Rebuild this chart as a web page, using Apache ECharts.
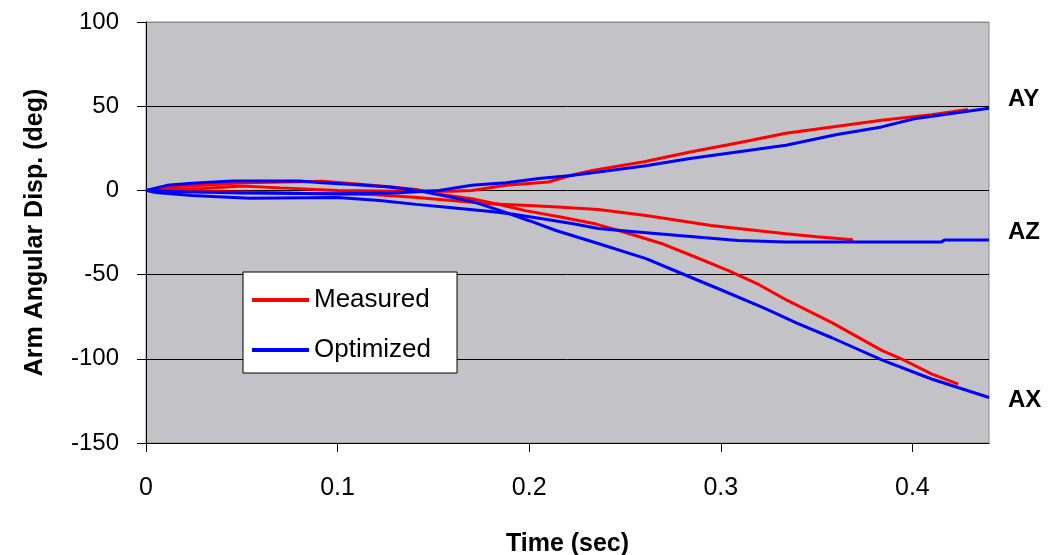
<!DOCTYPE html>
<html>
<head>
<meta charset="utf-8">
<script src="https://cdn.jsdelivr.net/npm/echarts@6/dist/echarts.min.js"></script>
<style>
html,body{margin:0;padding:0;background:#fff;}
#graph{width:1057px;height:555px;}
</style>
</head>
<body>
<div id="graph"></div>
<script>
// [time (sec), angle (deg)]
var measuredAX = [[0,0],[0.012,2],[0.03,3],[0.05,4.5],[0.08,5.2],[0.092,5.4],[0.11,3.8],[0.127,2.2],[0.141,0.5],[0.155,-2.5],[0.17,-5],[0.185,-8.5],[0.198,-12],[0.217,-16],[0.235,-20],[0.252,-25.6],[0.269,-31.5],[0.287,-39.7],[0.304,-47.6],[0.32,-56],[0.335,-65.5],[0.358,-78.5],[0.384,-95],[0.396,-101],[0.41,-109],[0.424,-115]];
var measuredAY = [[0,0],[0.03,1.2],[0.05,2.6],[0.07,1.5],[0.1,0],[0.13,-0.5],[0.16,-0.5],[0.17,0],[0.188,3],[0.21,5],[0.222,9],[0.233,11.9],[0.26,17],[0.284,22.8],[0.31,28.5],[0.334,33.9],[0.36,38],[0.384,41.7],[0.41,45],[0.429,48]];
var measuredAZ = [[0,0],[0.02,-0.5],[0.05,-1],[0.09,-2],[0.118,-2.5],[0.14,-4],[0.155,-5.5],[0.179,-8],[0.2,-9],[0.217,-10],[0.236,-11.3],[0.261,-14.9],[0.295,-20.8],[0.309,-22.6],[0.334,-25.8],[0.35,-27.5],[0.369,-29.3]];
var optimizedAX = [[0,0],[0.011,3],[0.024,4.3],[0.045,5.6],[0.08,5.6],[0.092,4.6],[0.11,3.4],[0.127,2],[0.141,0],[0.155,-3],[0.17,-6.5],[0.185,-12],[0.2,-18],[0.214,-23.8],[0.236,-31.5],[0.261,-40.5],[0.278,-48.6],[0.3,-59],[0.323,-70],[0.34,-79],[0.358,-87.5],[0.384,-100.6],[0.41,-112],[0.44,-123]];
var optimizedAY = [[0,0],[0.02,-0.8],[0.05,-1.5],[0.1,-2],[0.13,-1.5],[0.153,0],[0.17,3],[0.188,4.6],[0.205,7],[0.222,8.9],[0.236,10.9],[0.26,14.5],[0.284,19],[0.334,26.8],[0.36,33],[0.384,37.7],[0.401,42.5],[0.44,48.8]];
var optimizedAZ = [[0,0],[0.005,-1.2],[0.024,-3],[0.054,-4.6],[0.1,-4.2],[0.122,-6],[0.141,-8.3],[0.157,-10],[0.18,-12.5],[0.19,-13.9],[0.206,-16.7],[0.223,-19.8],[0.236,-22.6],[0.252,-24.2],[0.278,-26.8],[0.309,-29.8],[0.334,-30.7],[0.415,-30.7],[0.417,-29.4],[0.44,-29.4]];
var xTicks = [0, 0.1, 0.2, 0.3, 0.4];
var yTicks = [-150, -100, -50, 0, 50, 100];

var font = 'Liberation Sans, Arial, sans-serif';

function line(name, data, color, label, dy) {
    var s = {
        name: name,
        type: 'line',
        data: data,
        showSymbol: false,
        symbol: 'none',
        lineStyle: { color: color, width: 3 },
        itemStyle: { color: color },
        emphasis: { disabled: true },
        animation: false
    };
    if (label) {
        s.endLabel = {
            show: true,
            formatter: label,
            color: '#000',
            fontFamily: font,
            fontWeight: 'bold',
            fontSize: 24,
            distance: 19,
            offset: [0, dy]
        };
    }
    return s;
}

var myChart = echarts.init(document.getElementById('graph'));
var option = {
    backgroundColor: '#fff',
    animation: false,
    grid: {
        left: 146, right: 68, top: 22, bottom: 112,
        containLabel: false,
        outerBoundsMode: 'none',
        show: true,
        backgroundColor: '#c3c2c6',
        borderColor: '#8a8a8a',
        borderWidth: 1
    },
    legend: {
        data: ['Measured', 'Optimized'],
        orient: 'vertical',
        left: 243,
        top: 272,
        icon: 'rect',
        itemWidth: 57,
        itemHeight: 4,
        itemGap: 24,
        padding: [15, 26, 10, 9],
        backgroundColor: '#fff',
        borderColor: '#000',
        borderWidth: 1,
        borderRadius: 0,
        textStyle: { fontFamily: font, fontSize: 26, color: '#000', lineHeight: 25 }
    },
    xAxis: {
        type: 'value',
        min: 0,
        max: 0.44,
        interval: 0.1,
        name: 'Time (sec)',
        nameLocation: 'middle',
        nameGap: 89,
        nameTextStyle: { fontFamily: font, fontSize: 25, fontWeight: 'bold', color: '#000' },
        axisLine: { show: true, onZero: false, lineStyle: { color: '#000', width: 1 } },
        axisTick: { show: true, inside: false, length: 9, lineStyle: { color: '#000' } },
        axisLabel: {
            margin: 33,
            fontFamily: font, fontSize: 25, color: '#000',
            showMaxLabel: false,
            formatter: function (v) {
                for (var i = 0; i < xTicks.length; i++) {
                    if (Math.abs(v - xTicks[i]) < 1e-6) return String(xTicks[i]);
                }
                return '';
            }
        },
        splitLine: { show: false }
    },
    yAxis: {
        type: 'value',
        min: yTicks[0],
        max: yTicks[yTicks.length - 1],
        interval: 50,
        name: 'Arm Angular Disp. (deg)',
        nameLocation: 'middle',
        nameGap: 98,
        nameTextStyle: { fontFamily: font, fontSize: 25, fontWeight: 'bold', color: '#000' },
        axisLine: { show: true, onZero: false, lineStyle: { color: '#000', width: 1 } },
        axisTick: { show: true, inside: false, length: 9, lineStyle: { color: '#000' } },
        axisLabel: { margin: 27, fontFamily: font, fontSize: 24, color: '#000' },
        splitLine: {
            show: true,
            lineStyle: { color: ['#000', '#000', '#000', '#000', '#000', '#8a8a8a'], width: 1 }
        }
    },
    series: [
        line('Measured', measuredAY, '#ff0000'),
        line('Measured', measuredAZ, '#ff0000'),
        line('Measured', measuredAX, '#ff0000'),
        line('Optimized', optimizedAY, '#0000ff', 'AY', -9),
        line('Optimized', optimizedAZ, '#0000ff', 'AZ', -8),
        line('Optimized', optimizedAX, '#0000ff', 'AX', 3)
    ]
};
if (option && typeof option === "object") {
    myChart.setOption(option, true);
}
</script>
</body>
</html>
